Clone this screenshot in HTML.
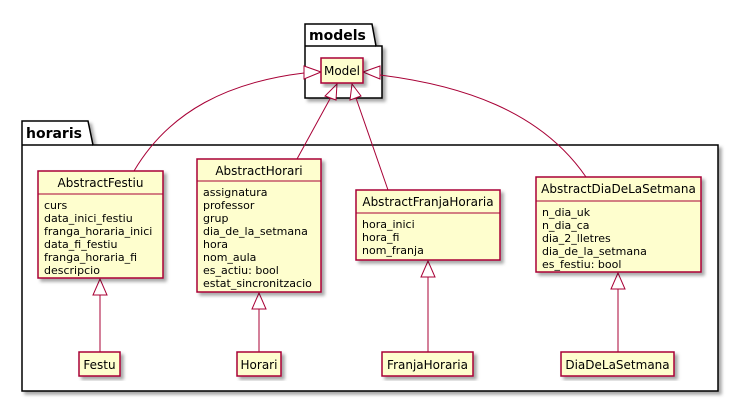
<!DOCTYPE html>
<html><head><meta charset="utf-8"><style>
html,body{margin:0;padding:0;background:#fff;width:738px;height:403px;overflow:hidden}
text{font-family:"DejaVu Sans","Liberation Sans",sans-serif;font-size:11px;fill:#000}
.b{fill:#FEFECE;stroke:#A80036;stroke-width:1.5}
.l{fill:none;stroke:#A80036;stroke-width:1}
.t{fill:#fff;stroke:#A80036;stroke-width:1}
.p{fill:#fff;stroke:#000;stroke-width:1.5}
</style></head><body>
<svg width="738" height="403" xmlns="http://www.w3.org/2000/svg">
<defs><filter id="s" x="-10%" y="-10%" width="130%" height="130%"><feDropShadow dx="3" dy="3" stdDeviation="1.5" flood-color="#000" flood-opacity="0.35"/></filter></defs>
<!-- models package -->
<g filter="url(#s)">
<path class="p" d="M305,24 L372,24 L376,46 L382,46 L382,98 L305,98 Z"/>
</g>
<line x1="305" y1="46" x2="376" y2="46" stroke="#000" stroke-width="1.5"/>
<text x="309" y="40" style="font-size:14px;font-weight:bold">models</text>
<!-- horaris package -->
<g filter="url(#s)">
<path class="p" d="M22,121 L88,121 L93,145 L718,145 L718,391 L22,391 Z"/>
</g>
<line x1="22" y1="145" x2="93" y2="145" stroke="#000" stroke-width="1.5"/>
<text x="26" y="138" style="font-size:14px;font-weight:bold">horaris</text>

<!-- connectors to Model -->
<path class="l" d="M134,171 C170,110 230,82 304,73"/>
<polygon class="t" points="321,72 304,66 304,79"/>
<line class="l" x1="297" y1="159" x2="331" y2="97"/>
<polygon class="t" points="337,84 325,96 336,100"/>
<line class="l" x1="388" y1="190" x2="356" y2="98"/>
<polygon class="t" points="352,84 350,100 361,96"/>
<path class="l" d="M586,177 C540,110 460,85 380,75"/>
<polygon class="t" points="363,72 380,66 380,79"/>

<!-- inheritance -->
<line class="l" x1="100" y1="295" x2="100" y2="352"/>
<polygon class="t" points="100,279 93,295 107,295"/>
<line class="l" x1="259" y1="309" x2="259" y2="352"/>
<polygon class="t" points="259,293 252,309 266,309"/>
<line class="l" x1="428" y1="277" x2="428" y2="352"/>
<polygon class="t" points="428,261 421,277 435,277"/>
<line class="l" x1="618" y1="289" x2="618" y2="352"/>
<polygon class="t" points="618,273 611,289 625,289"/>

<!-- AbstractFestiu -->
<rect class="b" x="38" y="171" width="125" height="107" filter="url(#s)"/>
<line class="l" stroke-width="1.5" x1="38" y1="194" x2="163" y2="194"/>
<text x="100.5" y="187" text-anchor="middle" style="font-size:12px">AbstractFestiu</text>
<text x="44" y="209">curs</text><text x="44" y="222">data_inici_festiu</text><text x="44" y="235">franga_horaria_inici</text><text x="44" y="248">data_fi_festiu</text><text x="44" y="261">franga_horaria_fi</text><text x="44" y="274">descripcio</text>

<!-- AbstractHorari -->
<rect class="b" x="197" y="159" width="124" height="133" filter="url(#s)"/>
<line class="l" stroke-width="1.5" x1="197" y1="181" x2="321" y2="181"/>
<text x="259" y="175" text-anchor="middle" style="font-size:12px">AbstractHorari</text>
<text x="203" y="196">assignatura</text><text x="203" y="209">professor</text><text x="203" y="222">grup</text><text x="203" y="235">dia_de_la_setmana</text><text x="203" y="248">hora</text><text x="203" y="261">nom_aula</text><text x="203" y="274">es_actiu: bool</text><text x="203" y="287">estat_sincronitzacio</text>

<!-- AbstractFranjaHoraria -->
<rect class="b" x="356" y="190" width="144" height="70" filter="url(#s)"/>
<line class="l" stroke-width="1.5" x1="356" y1="213" x2="500" y2="213"/>
<text x="428" y="206" text-anchor="middle" style="font-size:12px">AbstractFranjaHoraria</text>
<text x="362" y="228">hora_inici</text><text x="362" y="241">hora_fi</text><text x="362" y="254">nom_franja</text>

<!-- AbstractDiaDeLaSetmana -->
<rect class="b" x="536" y="177" width="165" height="95" filter="url(#s)"/>
<line class="l" stroke-width="1.5" x1="536" y1="201" x2="701" y2="201"/>
<text x="618.5" y="193" text-anchor="middle" style="font-size:12px">AbstractDiaDeLaSetmana</text>
<text x="542" y="216">n_dia_uk</text><text x="542" y="229">n_dia_ca</text><text x="542" y="242">dia_2_lletres</text><text x="542" y="255">dia_de_la_setmana</text><text x="542" y="268">es_festiu: bool</text>

<!-- Model -->
<rect class="b" x="321" y="58" width="42" height="25" filter="url(#s)"/>
<text x="342" y="75" text-anchor="middle" style="font-size:12px">Model</text>

<!-- leaves -->
<rect class="b" x="79" y="352" width="41" height="24" filter="url(#s)"/>
<text x="99.5" y="369" text-anchor="middle" style="font-size:12px">Festu</text>
<rect class="b" x="237" y="352" width="44" height="24" filter="url(#s)"/>
<text x="259" y="369" text-anchor="middle" style="font-size:12px">Horari</text>
<rect class="b" x="382" y="352" width="91" height="24" filter="url(#s)"/>
<text x="427.5" y="369" text-anchor="middle" style="font-size:12px">FranjaHoraria</text>
<rect class="b" x="561" y="352" width="113" height="24" filter="url(#s)"/>
<text x="617.5" y="369" text-anchor="middle" style="font-size:12px">DiaDeLaSetmana</text>
</svg>
</body></html>
